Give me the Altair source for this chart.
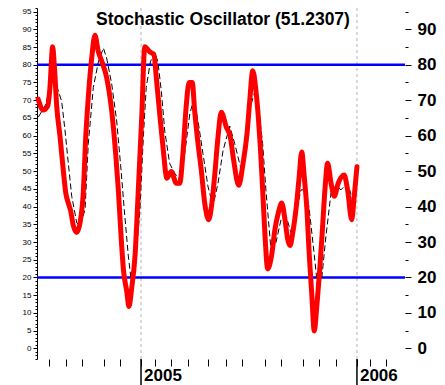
import altair as alt
import pandas as pd

TITLE = "Stochastic Oscillator (51.2307)"

# x = months since Jan 2005 (0 = Jan 2005, 12 = Jan 2006)
k_month = [-5.72, -5.43, -5.18, -5.06, -4.91, -4.82, -4.68, -4.5, -4.32, -4.18, -4.04, -3.91,
           -3.76, -3.57, -3.39, -3.21, -3.07, -2.93, -2.74, -2.56, -2.37, -2.18, -1.91, -1.63,
           -1.41, -1.26, -1.11, -0.98, -0.79, -0.67, -0.52, -0.33, -0.15, 0.04, 0.21, 0.48,
           0.72, 0.85, 1.04, 1.22, 1.44, 1.68, 1.96, 2.15, 2.33, 2.52, 2.67, 2.85, 2.98, 3.17,
           3.35, 3.54, 3.76, 3.94, 4.09, 4.28, 4.46, 4.74, 4.96, 5.15, 5.43, 5.67, 5.89, 6.04,
           6.21, 6.39, 6.52, 6.63, 6.76, 6.89, 7.04, 7.26, 7.44, 7.63, 7.82, 8.0, 8.15, 8.28,
           8.46, 8.67, 8.79, 8.93, 9.07, 9.22, 9.35, 9.48, 9.63, 9.76, 9.91, 10.06, 10.22,
           10.37, 10.56, 10.74, 10.96, 11.29, 11.48, 11.71, 11.85, 12.0]
k_value = [70.3, 67.2, 68.4, 73.6, 85.1, 80, 68, 59.7, 50.3, 43.8, 41, 38.8,
           34.6, 32.7, 35.4, 43.8, 59.7, 70.8, 81.9, 88.3, 83.6, 81, 76.4, 67,
           55, 44.7, 31.8, 22.4, 16, 11.8, 16.9, 26.3, 44.7, 65.2, 85.1, 83.7,
           82.8, 76.4, 66.1, 56.9, 48, 49.9, 46.6, 46.6, 55, 68.8, 75, 75, 67, 57.7,
           50.3, 41, 36.3, 41, 48.5, 59.7, 66.6, 62.4, 59.7, 53, 46, 52.2, 60.5, 69.7,
           78.3, 72.5, 65.2, 56.9, 44.7, 31.8, 22.4, 26.3, 33.5, 38.2, 41, 36.3, 30.8, 29,
           33.5, 41.9, 48.5, 55.4, 48.5, 39.1, 26.3, 16, 4.9, 11.3, 20.7, 31.8, 44.7,
           52.2, 46.6, 42.9, 46.6, 48.9, 44.7, 36.3, 42.9, 51.23]

d_month = [-5.71, -5.33, -4.96, -4.68, -4.41, -4.22, -4.04, -3.85, -3.57, -3.39, -3.11, -2.93,
           -2.65, -2.37, -2.09, -1.91, -1.63, -1.35, -1.11, -0.93, -0.71, -0.52, -0.33, -0.06,
           0.13, 0.29, 0.52, 0.76, 0.94, 1.13, 1.32, 1.59, 1.87, 2.15, 2.43, 2.71, 2.93, 3.17,
           3.44, 3.72, 4.0, 4.28, 4.56, 4.93, 5.21, 5.57, 5.85, 6.07, 6.33, 6.57, 6.76, 6.94,
           7.22, 7.5, 7.78, 8.06, 8.33, 8.61, 8.89, 9.17, 9.35, 9.63, 9.82, 10.04, 10.28, 10.56,
           10.83, 11.11, 11.48, 11.76, 11.94]
d_value = [65.2, 68.4, 75.3, 73.9, 69.7, 61.3, 52.2, 42.9, 35.4, 34.6, 39.1, 57.7,
           73.6, 80.8, 84.7, 81.9, 74.6, 64.1, 50.3, 39.1, 26.3, 17.9, 22.4, 39.1,
           59.7, 73.6, 80.8, 83.6, 80.8, 72.5, 61.3, 52.2, 49.4, 47.5, 55, 66.1, 70.3, 64.1,
           55, 45.7, 40.2, 46.6, 55.8, 62.7, 57.7, 50.3, 55.8, 68, 72.5, 66.1, 57.7, 44.7,
           27.9, 29.9, 36.3, 37.4, 32.7, 38.2, 44.7, 44.7, 39.1, 26.3, 16.9, 19.6, 31.8, 43.8,
           46, 44.7, 46.6, 41.9, 42.9]

level_lines = [20, 80]
year_marks = [0, 12]
year_labels = ["2005", "2006"]
month_ticks = [-5.11, -4.17, -3.28, -2.06, -1.17, 0, 0.76, 1.68, 2.63, 3.74, 4.71, 5.63,
               6.87, 7.79, 9.0, 9.89, 10.82, 12, 12.71, 13.63]

W, H = 368, 351
Y_DOM = [-3, 96]
X_DOM = [-5.78, 14.67]
FONT = "Liberation Sans"

k_df = pd.DataFrame({"m": k_month, "v": k_value})
d_df = pd.DataFrame({"m": d_month, "v": d_value})
lvl_df = pd.DataFrame({"v": level_lines})
yr_df = pd.DataFrame({"m": year_marks, "label": year_labels})
title_df = pd.DataFrame({"t": [TITLE]})

xscale = alt.Scale(domain=X_DOM, nice=False, zero=False)

x_axis = alt.Axis(
    values=month_ticks, title=None, grid=False, domain=False, tickSize=7, tickColor="black",
    labels=False,
)

left_axis = alt.Axis(
    values=list(range(-3, 97)), title=None, grid=False, orient="left",
    domain=True, domainColor="black", tickColor="black",
    tickSize={"condition": {"test": "datum.value % 5 === 0", "value": 4}, "value": 2},
    labelExpr="(datum.value % 5 === 0 && datum.value >= 0) ? datum.label : ''",
    labelFont=FONT, labelFontSize=8, labelColor="black", labelPadding=2,
    labelOverlap=False, labelFlush=False,
)

right_axis = alt.Axis(
    values=list(range(0, 96, 5)), title=None, grid=False, orient="right",
    domain=False, tickColor="black",
    tickSize={"condition": {"test": "datum.value % 10 === 0", "value": 6}, "value": 3},
    labelExpr="datum.value % 10 === 0 ? datum.label : ''",
    labelFont=FONT, labelFontSize=17, labelFontWeight="bold", labelColor="black",
    labelPadding=6, labelOverlap=False, labelFlush=False,
)

yscale = alt.Scale(domain=Y_DOM, nice=False, zero=False)

k_line = alt.Chart(k_df).mark_line(
    color="#ff0000", strokeWidth=5, interpolate="monotone", strokeCap="round", strokeJoin="round"
).encode(
    x=alt.X("m:Q", scale=xscale, axis=x_axis),
    y=alt.Y("v:Q", scale=yscale, axis=left_axis),
)

d_line = alt.Chart(d_df).mark_line(
    color="black", strokeWidth=1, strokeDash=[6, 3]
).encode(
    x=alt.X("m:Q", scale=xscale, axis=x_axis),
    y=alt.Y("v:Q", scale=yscale, axis=None),
)

levels = alt.Chart(lvl_df).mark_rule(color="#0000ff", strokeWidth=2.5).encode(
    y=alt.Y("v:Q", scale=yscale, axis=right_axis),
)

year_grid = alt.Chart(yr_df).mark_rule(color="#b4b4b4", strokeWidth=1, strokeDash=[3, 3]).encode(
    x=alt.X("m:Q", scale=xscale, axis=x_axis),
)

year_ticks = alt.Chart(yr_df).mark_rule(color="black", strokeWidth=1.5).encode(
    x=alt.X("m:Q", scale=xscale, axis=x_axis),
    y=alt.value(H),
    y2=alt.value(H + 26),
)

year_text = alt.Chart(yr_df).mark_text(
    font=FONT, fontSize=17, fontWeight="bold", color="black", align="left", baseline="top", dx=3
).encode(
    x=alt.X("m:Q", scale=xscale, axis=x_axis),
    y=alt.value(H + 9),
    text="label:N",
)

title = alt.Chart(title_df).mark_text(
    font=FONT, fontSize=17.5, fontWeight="bold", color="black", align="center", baseline="alphabetic"
).encode(
    x=alt.value(186), y=alt.value(17), text="t:N"
)

chart = alt.layer(
    year_grid, levels, d_line, k_line, year_ticks, year_text, title
).resolve_scale(y="independent").properties(
    width=W, height=H,
    autosize=alt.AutoSizeParams(type="none"),
    padding={"left": 29, "top": 0, "right": 32, "bottom": 26},
    background="white",
).configure_view(stroke=None)

chart.save("out.html", embed_options={"renderer": "svg", "actions": False})
